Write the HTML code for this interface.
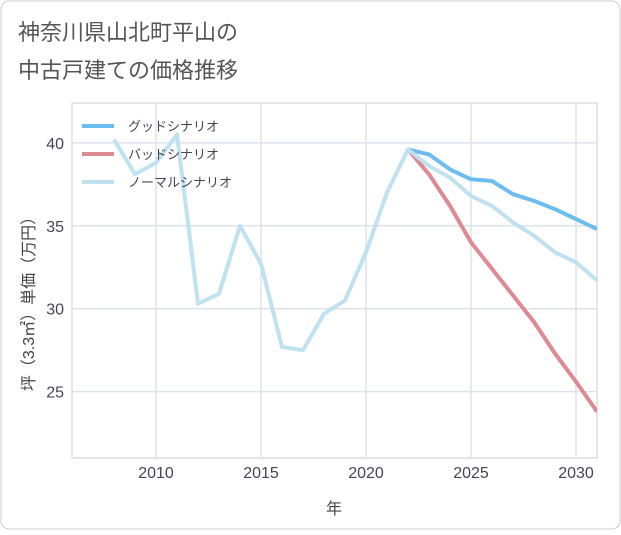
<!DOCTYPE html>
<html><head><meta charset="utf-8">
<style>
body{margin:0;background:#fff;}
#wrap{position:relative;width:621px;height:530px;font-family:"Liberation Sans","Noto Sans CJK JP",sans-serif;}
</style></head>
<body>
<div id="wrap">
<svg id="chart" width="621" height="530" xmlns="http://www.w3.org/2000/svg">
<rect x="1" y="1" width="619" height="528" rx="8" fill="#fff" stroke="#ccc"/>
<text x="18" y="40" font-size="22" fill="#555" font-family="Liberation Sans,Noto Sans CJK JP,sans-serif">神奈川県山北町平山の</text>
<text x="18" y="78" font-size="22" fill="#555" font-family="Liberation Sans,Noto Sans CJK JP,sans-serif">中古戸建ての価格推移</text>
<g id="grid"></g>
<g id="axes"></g>
<g id="series"></g>
<g id="legend"></g>
<text x="334" y="514" font-size="16" fill="#444" text-anchor="middle" font-family="Liberation Sans,Noto Sans CJK JP,sans-serif">年</text>
<text transform="translate(34,300) rotate(-90)" font-size="16" fill="#444" text-anchor="middle" font-family="Liberation Sans,Noto Sans CJK JP,sans-serif">坪（3.3㎡）単価（万円）</text>
</svg>
</div>
<script>
const xTicks=[2010,2015,2020,2025,2030];
const yTicks=[25,30,35,40];
const normalYears=[2008,2009,2010,2011,2012,2013,2014,2015,2016,2017,2018,2019,2020,2021,2022,2023,2024,2025,2026,2027,2028,2029,2030,2031];
const normalValues=[40.2,38.1,38.8,40.5,30.3,30.9,35.0,32.7,27.7,27.5,29.7,30.5,33.4,37.0,39.6,38.6,37.9,36.8,36.2,35.2,34.4,33.4,32.8,31.7];
const futureYears=[2022,2023,2024,2025,2026,2027,2028,2029,2030,2031];
const goodValues=[39.6,39.3,38.4,37.8,37.7,36.9,36.5,36.0,35.4,34.8];
const badValues=[39.6,38.1,36.2,34.0,32.4,30.8,29.2,27.3,25.6,23.8];
const seriesNames=["グッドシナリオ","バッドシナリオ","ノーマルシナリオ"];
const L=72,R=597,T=103,B=458,X0=2006,X1=2031,Y0=21.0,Y1=42.4;
const NS="http://www.w3.org/2000/svg";
function x(v){return L+(v-X0)/(X1-X0)*(R-L);}
function y(v){return B-(v-Y0)/(Y1-Y0)*(B-T);}
function mk(tag,attrs,parent){const e=document.createElementNS(NS,tag);for(const k in attrs)e.setAttribute(k,attrs[k]);parent.appendChild(e);return e;}
const grid=document.getElementById('grid'),axes=document.getElementById('axes'),ser=document.getElementById('series'),leg=document.getElementById('legend');
const bg=mk('rect',{x:L,y:T,width:R-L,height:B-T,fill:'#fff',stroke:'#ccc'},grid);


xTicks.forEach(t=>{
 const g=mk('line',{x1:x(t),x2:x(t),y1:T,y2:B,stroke:'#dde3ea','stroke-width':1.5},grid);
 
 
 const tx=mk('text',{x:x(t),y:B+20,'font-size':16,fill:'#445','text-anchor':'middle'},axes);
 tx.textContent=t;
 
 
});
yTicks.forEach(t=>{
 const g=mk('line',{x1:L,x2:R,y1:y(t),y2:y(t),stroke:'#dde3ea','stroke-width':1.5},grid);
 
 
 const tx=mk('text',{x:L-8,y:y(t)+6,'font-size':16,fill:'#445','text-anchor':'end'},axes);
 tx.textContent=t;
 
 
});
function line(xs,vs,color,name){
 const d=xs.map((xx,i)=>(i?'L':'M')+x(xx).toFixed(1)+','+y(vs[i]).toFixed(1)).join(' ');
 const p=mk('path',{d:d,fill:'none',stroke:color,'stroke-width':4,'stroke-linejoin':'round'},ser);
 
 
}
const cp=mk('clipPath',{id:'clip'},ser);mk('rect',{x:L,y:T,width:R-L,height:B-T},cp);
ser.setAttribute('clip-path','url(#clip)');
line(futureYears,goodValues,'#6cbef0','good-scenario-line');
line(futureYears,badValues,'#de8a92','bad-scenario-line');
line(normalYears,normalValues,'#bfe1f0','normal-scenario-line');
const colors=['#6cbef0','#de8a92','#bfe1f0'];
seriesNames.forEach((n,i)=>{
 const yy=126+i*28;
 const s=mk('line',{x1:82,x2:114,y1:yy,y2:yy,stroke:colors[i],'stroke-width':4},leg);
 
 
 const t=mk('text',{x:128,y:yy+5,'font-size':13,fill:'#445'},leg);
 t.textContent=n;
 
 
});
</script>
</body></html>
